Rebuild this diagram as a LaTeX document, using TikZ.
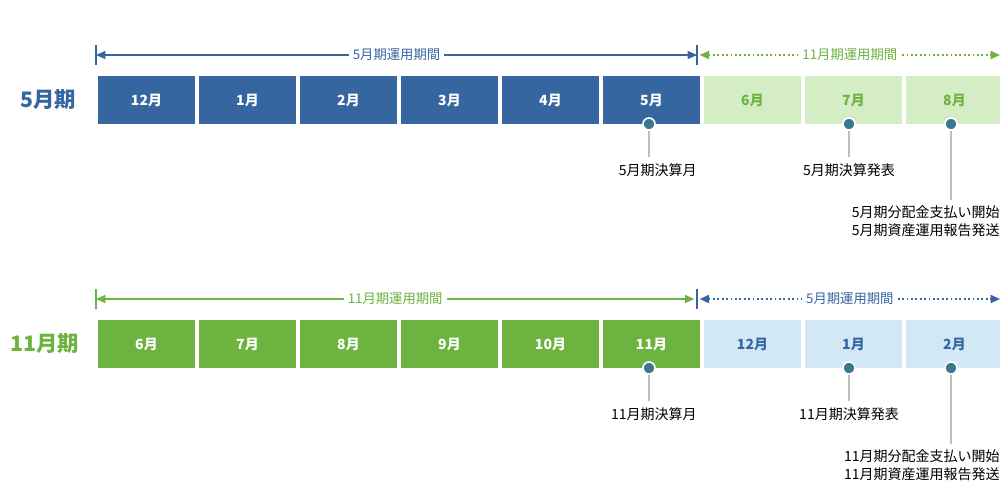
\documentclass[tikz,border=0pt]{standalone}
\usepackage{fontspec}
\setmainfont{Noto Sans CJK JP}
\usetikzlibrary{arrows.meta}
\definecolor{dblue}{HTML}{3566A0}
\definecolor{lblue}{HTML}{D3E8F5}
\definecolor{dgreen}{HTML}{6CB33F}
\definecolor{lgreen}{HTML}{D5EDC5}
\definecolor{dotc}{HTML}{3A7890}
\begin{document}
\begin{tikzpicture}[x=0.75pt,y=-0.75pt,
  mbox/.style={minimum width=73pt,minimum height=36pt,inner sep=0pt,font=\bfseries\fontsize{10.5}{12}\selectfont},
  lbl/.style={font=\fontsize{10.5}{14}\selectfont,align=right,inner sep=0pt},
  per/.style={font=\fontsize{10}{12}\selectfont,fill=white,inner sep=3pt},
  big/.style={font=\bfseries\fontsize{16}{18}\selectfont,inner sep=0pt},
  pdot/.style={circle,draw=white,line width=1.2pt,fill=dotc,minimum size=9pt,inner sep=0pt},
  stem/.style={draw=black!25,line width=1pt},
  tip/.style={{Triangle[length=7pt,width=6pt]}-{Triangle[length=7pt,width=6pt]}}]
\useasboundingbox (0,0) rectangle (1000,500);
% Row 1
\node[big,text=dblue] (t1) at (48,100) {5月期};
\foreach \m [count=\i from 0] in {12,1,2,3,4,5}
  \node[mbox,fill=dblue,text=white] (a\i) at (146.5+\i*101,100) {\m 月};
\foreach \m [count=\i from 6] in {6,7,8}
  \node[mbox,fill=lgreen,text=dgreen] (a\i) at (146.5+\i*101,100) {\m 月};
\coordinate (p0) at (96,55); \coordinate (p1) at (697,55); \coordinate (p2) at (1000,55);
\draw[dblue,line width=1pt] (96,45) -- (96,65) (697,45) -- (697,65);
\draw[dblue,line width=1pt,tip] (p0) -- (p1)
  node[per,midway,text=dblue] (l1) {5月期運用期間};
\draw[dgreen,line width=1.3pt,dotted,tip] ([xshift=2]p1) -- (p2)
  node[per,pos=0.5,text=dgreen] (l2) {11月期運用期間};
\coordinate (s1) at (649,157); \coordinate (s2) at (849,157); \coordinate (s3) at (951,200);
\draw[stem] (649,124) -- (s1); \draw[stem] (849,124) -- (s2); \draw[stem] (951,124) -- (s3);
\node[pdot] (d1) at (649,124) {}; \node[pdot] (d2) at (849,124) {}; \node[pdot] (d3) at (951,124) {};
\node[lbl,anchor=north east] (n1) at (697,163) {5月期決算月};
\node[lbl,anchor=north] (n2) at (849,163) {5月期決算発表};
\node[lbl,anchor=north east] (n3) at (1000,205) {5月期分配金支払い開始\\5月期資産運用報告発送};
% Row 2
\node[big,text=dgreen] (t2) at (45,344) {11月期};
\foreach \m [count=\i from 0] in {6,7,8,9,10,11}
  \node[mbox,fill=dgreen,text=white] (b\i) at (146.5+\i*101,344) {\m 月};
\foreach \m [count=\i from 6] in {12,1,2}
  \node[mbox,fill=lblue,text=dblue] (b\i) at (146.5+\i*101,344) {\m 月};
\coordinate (q0) at (96,299); \coordinate (q1) at (697,299); \coordinate (q2) at (1000,299);
\draw[dgreen,line width=1pt] (96,289) -- (96,309);
\draw[dblue,line width=1pt] (697,289) -- (697,309);
\draw[dgreen,line width=1pt,tip] (q0) -- ([xshift=-2]q1)
  node[per,midway,text=dgreen] (l3) {11月期運用期間};
\draw[dblue,line width=1.3pt,dotted,tip] ([xshift=2]q1) -- (q2)
  node[per,pos=0.5,text=dblue] (l4) {5月期運用期間};
\coordinate (r1) at (649,401); \coordinate (r2) at (849,401); \coordinate (r3) at (951,444);
\draw[stem] (649,368) -- (r1); \draw[stem] (849,368) -- (r2); \draw[stem] (951,368) -- (r3);
\node[pdot] (e1) at (649,368) {}; \node[pdot] (e2) at (849,368) {}; \node[pdot] (e3) at (951,368) {};
\node[lbl,anchor=north east] (m1) at (697,407) {11月期決算月};
\node[lbl,anchor=north] (m2) at (849,407) {11月期決算発表};
\node[lbl,anchor=north east] (m3) at (1000,449) {11月期分配金支払い開始\\11月期資産運用報告発送};
\end{tikzpicture}
\end{document}
